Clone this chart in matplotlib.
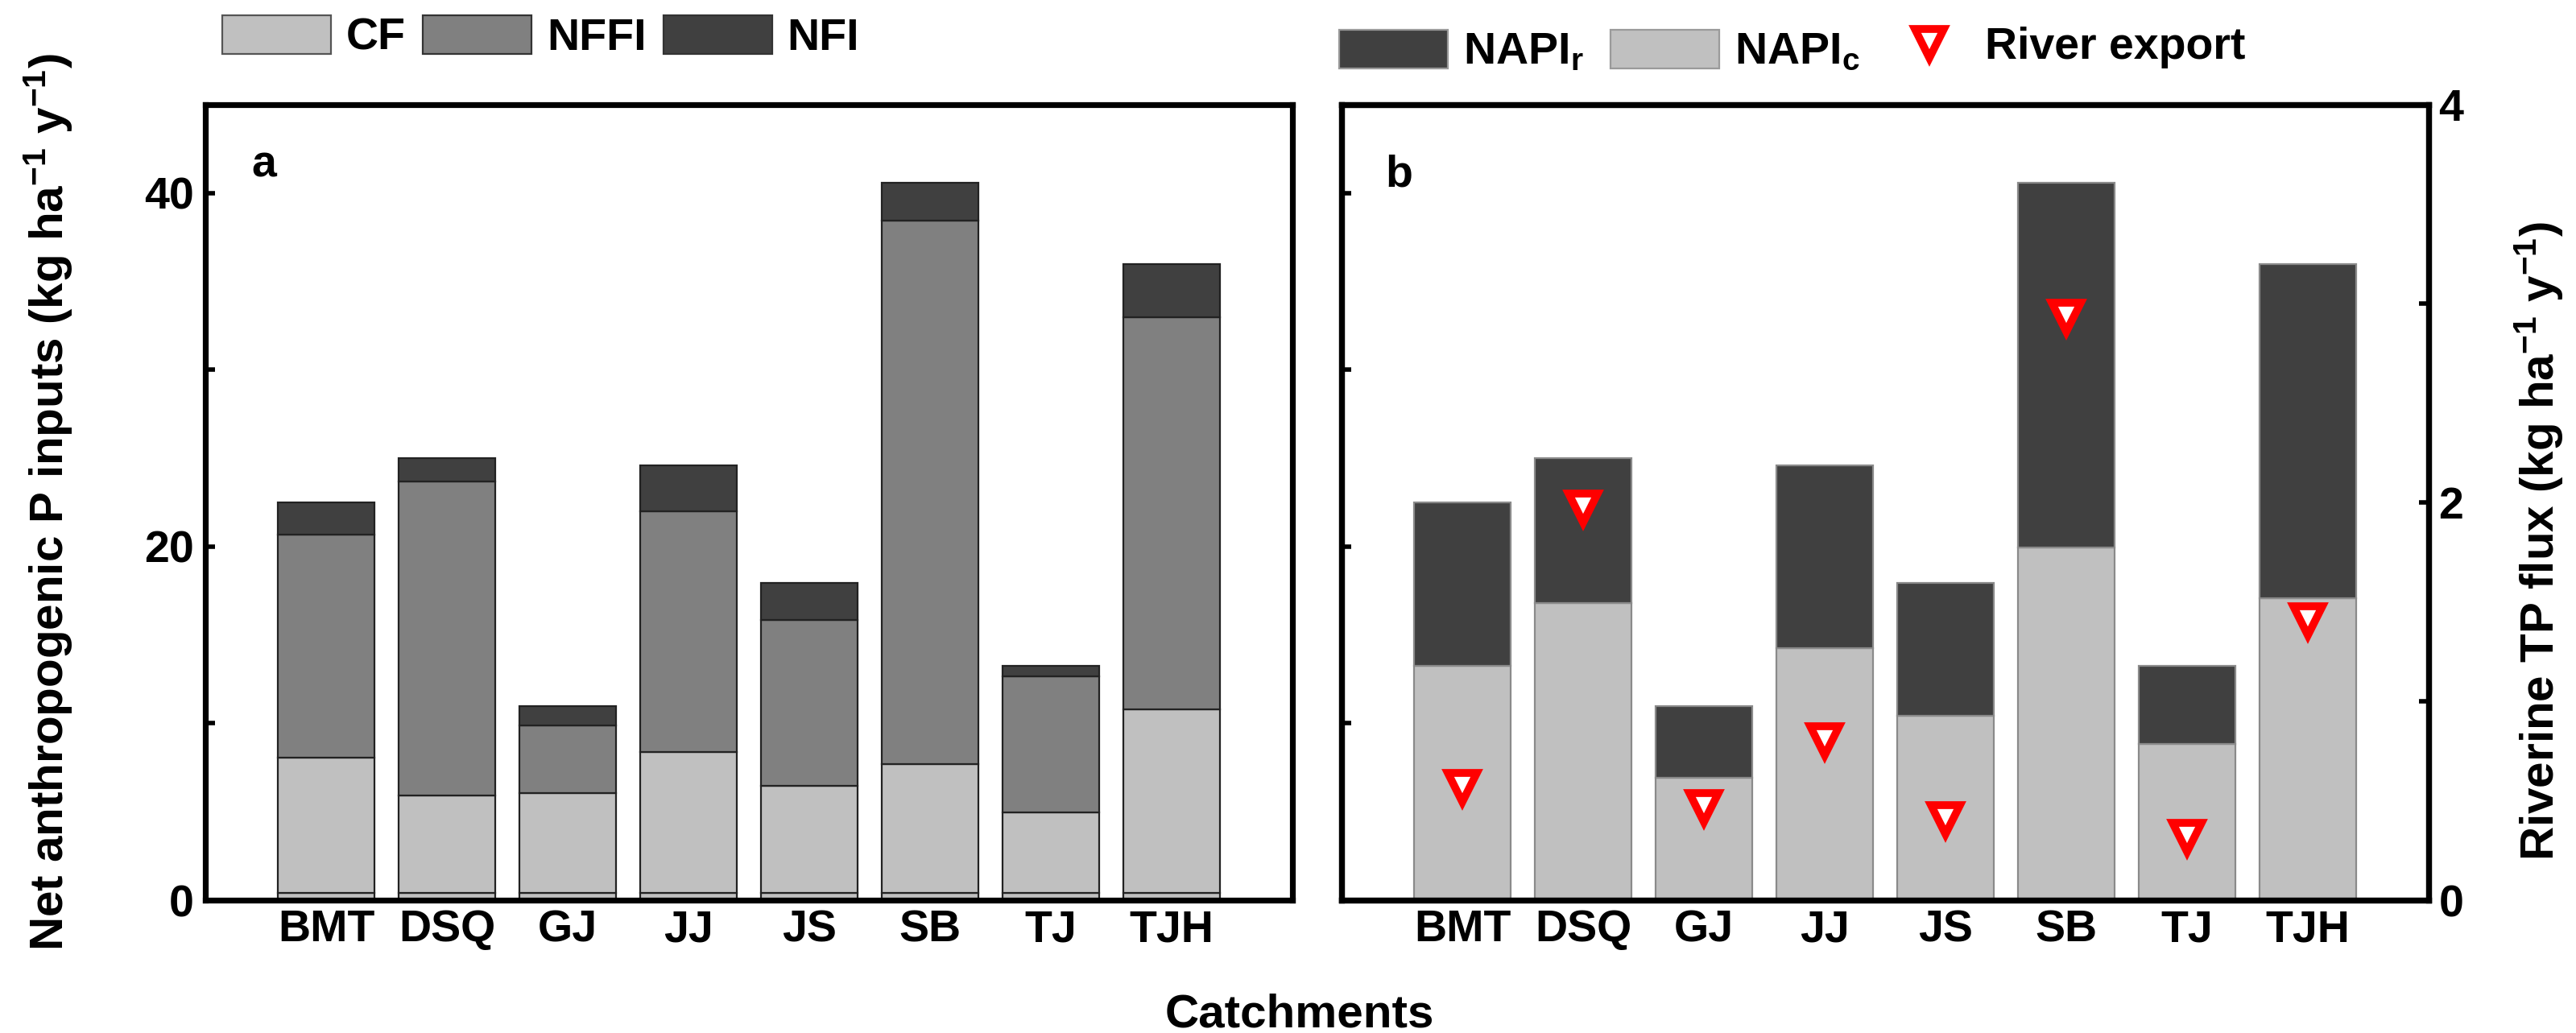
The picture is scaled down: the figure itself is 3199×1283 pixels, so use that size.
import matplotlib
matplotlib.use('Agg')
import numpy as np
import matplotlib.pyplot as plt
from matplotlib.patches import Patch
from matplotlib.lines import Line2D
from matplotlib.ticker import MultipleLocator

# data (kg P ha-1 y-1)
catchments = ['BMT', 'DSQ', 'GJ', 'JJ', 'JS', 'SB', 'TJ', 'TJH']
base_sliver = [0.4, 0.4, 0.4, 0.4, 0.4, 0.4, 0.4, 0.4]
cf = [7.65, 5.5, 5.67, 7.99, 6.07, 7.3, 4.58, 10.38]
nffi = [12.61, 17.78, 3.8, 13.61, 9.36, 30.75, 7.68, 22.22]
nfi = [1.84, 1.32, 1.11, 2.6, 2.1, 2.12, 0.6, 3.0]

napi_c = [13.26, 16.8, 6.94, 14.26, 10.44, 19.95, 8.82, 17.06]
napi_r = [9.24, 8.2, 4.04, 10.34, 7.49, 20.62, 4.44, 18.94]
river_export = [0.565, 1.97, 0.467, 0.80, 0.404, 2.93, 0.314, 1.407]

LIGHT = '#c0c0c0'
MID = '#808080'
DARK = '#404040'
FS = 20
LFS = 21

plt.rcParams.update({
    'font.family': ['Liberation Sans', 'DejaVu Sans'],
    'font.weight': 'bold',
    'font.size': FS,
    'mathtext.fontset': 'custom',
    'mathtext.rm': 'Liberation Sans:bold',
    'mathtext.bf': 'Liberation Sans:bold',
    'mathtext.it': 'Liberation Sans:bold',
    'mathtext.default': 'bf',
})

x = np.arange(1, len(catchments) + 1)
W = 0.8

fig = plt.figure(figsize=(15.995, 6.415), dpi=200)
ax_a = fig.add_axes([0.0797, 0.1286, 0.422, 0.770])
ax_b = fig.add_axes([0.5208, 0.1286, 0.422, 0.770])


def style_axes(ax):
    for sp in ax.spines.values():
        sp.set_linewidth(2.6)
    ax.set_xlim(0, 9)
    ax.set_ylim(0, 45)
    ax.set_xticks(x)
    ax.set_xticklabels(catchments, fontsize=FS, fontweight='bold')
    ax.tick_params(axis='x', length=0, pad=4)
    ax.yaxis.set_major_locator(MultipleLocator(20))
    ax.yaxis.set_minor_locator(MultipleLocator(10))
    ax.tick_params(axis='y', which='both', direction='in', length=4.3,
                   width=2, right=False, pad=5, labelsize=FS)


# panel a: stacked inputs
style_axes(ax_a)
bottom = np.zeros(len(x))
for vals, col in [(base_sliver, LIGHT), (cf, LIGHT), (nffi, MID), (nfi, DARK)]:
    ax_a.bar(x, vals, W, bottom=bottom, color=col, edgecolor='#222222',
             linewidth=0.8)
    bottom += np.array(vals)
ax_a.set_ylabel('Net anthropogenic P inputs (kg ha$^{-1}$ y$^{-1}$)',
                fontsize=LFS, fontweight='bold')
ax_a.yaxis.set_label_coords(-0.1207, 0.5)
ax_a.text(0.0422, 0.909, 'a', transform=ax_a.transAxes, fontsize=FS,
          fontweight='bold', va='baseline')

# panel b: NAPI split and river export
style_axes(ax_b)
ax_b.tick_params(axis='y', which='both', labelleft=False)
ax_b.bar(x, napi_c, W, color=LIGHT, edgecolor='#8a8a8a', linewidth=0.8)
ax_b.bar(x, napi_r, W, bottom=napi_c, color=DARK, edgecolor='#8a8a8a',
         linewidth=0.8)
ax_b.text(0.04, 0.897, 'b', transform=ax_b.transAxes, fontsize=FS,
          fontweight='bold', va='baseline')

ax2 = ax_b.twinx()
ax2.set_ylim(0, 4)
for sp in ax2.spines.values():
    sp.set_linewidth(2.6)
ax2.yaxis.set_major_locator(MultipleLocator(2))
ax2.yaxis.set_minor_locator(MultipleLocator(1))
ax2.tick_params(axis='y', which='both', direction='in', length=4.3, width=2,
                pad=4.5, labelsize=FS)
ax2.plot(x, river_export, linestyle='none', marker='v', markersize=13,
         markerfacecolor='white', markeredgecolor='red', markeredgewidth=3.5)
ax2.set_ylabel('Riverine TP flux (kg ha$^{-1}$ y$^{-1}$)', fontsize=LFS,
               fontweight='bold')
ax2.yaxis.set_label_coords(1.077, 0.451)

fig.text(0.5045, 0.0062, 'Catchments', ha='center', va='baseline',
         fontsize=LFS, fontweight='bold')

# legends above the panels
leg_a = [Patch(facecolor=LIGHT, edgecolor='#555555', lw=0.8, label='CF'),
         Patch(facecolor=MID, edgecolor='#333333', lw=0.8, label='NFFI'),
         Patch(facecolor=DARK, edgecolor='#333333', lw=0.8, label='NFI')]
fig.legend(handles=leg_a, loc='center left', bbox_to_anchor=(0.0863, 0.9638),
           ncol=3, frameon=False, borderpad=0, borderaxespad=0,
           handlelength=2.43, handleheight=0.95, handletextpad=0.34,
           columnspacing=0.38, fontsize=FS)

leg_b = [Patch(facecolor=DARK, edgecolor='#9a9a9a', lw=0.8,
               label='NAPI$_{r}$'),
         Patch(facecolor=LIGHT, edgecolor='#9a9a9a', lw=0.8,
               label='NAPI$_{c}$')]
fig.legend(handles=leg_b, loc='center left', bbox_to_anchor=(0.5198, 0.950),
           ncol=2, frameon=False, borderpad=0, borderaxespad=0,
           handlelength=2.43, handleheight=0.95, handletextpad=0.34,
           columnspacing=0.61, fontsize=FS)

leg_c = [Line2D([], [], linestyle='none', marker='v', markersize=13,
                markerfacecolor='white', markeredgecolor='red',
                markeredgewidth=3.5, label='River export')]
fig.legend(handles=leg_c, loc='center left', bbox_to_anchor=(0.7402, 0.954),
           frameon=False, borderpad=0, borderaxespad=0, handlelength=1.0,
           handletextpad=0.74, fontsize=FS)

fig.savefig('out.png', dpi=200)
